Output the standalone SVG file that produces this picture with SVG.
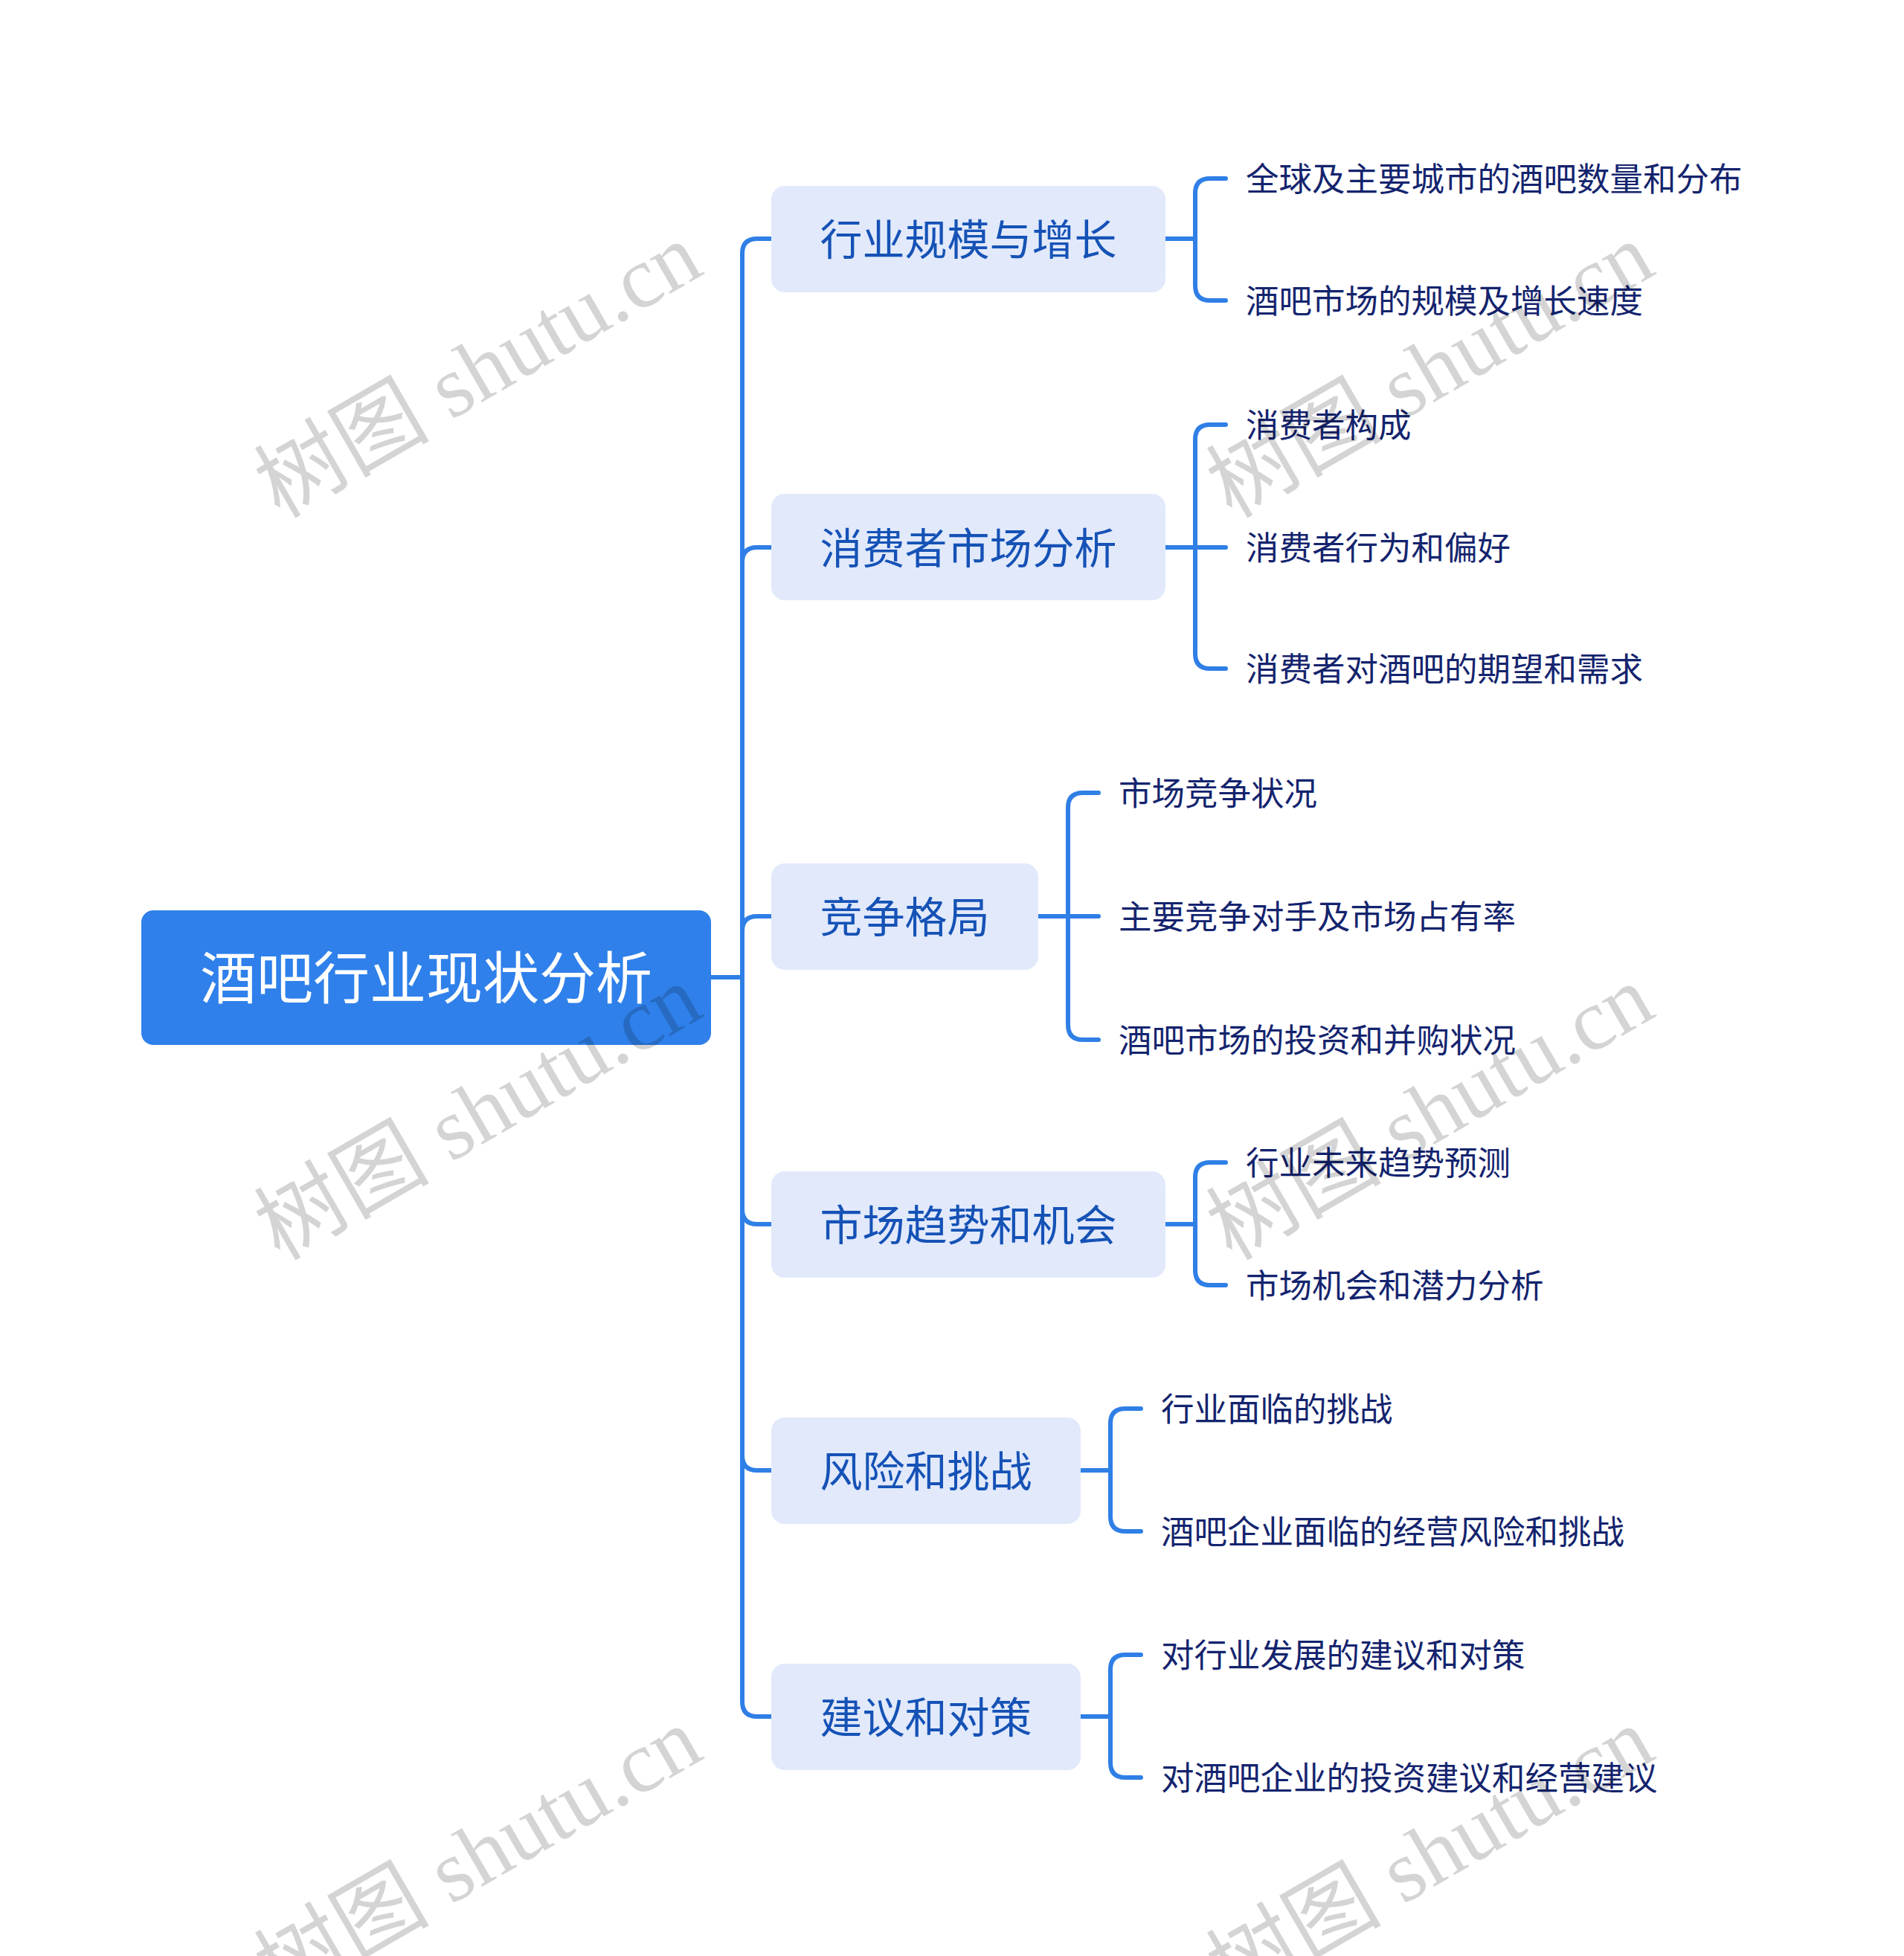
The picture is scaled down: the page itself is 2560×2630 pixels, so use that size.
<svg xmlns="http://www.w3.org/2000/svg" width="2560" height="2630" viewBox="0 0 2560 2630">
<style>
.line{fill:none;stroke:#2f7fe6;stroke-width:6;stroke-linecap:round;stroke-linejoin:round}
.root{fill:#2f80ea}
.l1{fill:#e1e9fb}
.t0{font-family:"Noto Sans CJK SC","Noto Sans",sans-serif;font-size:76px;fill:#ffffff;text-anchor:middle;dominant-baseline:central}
.t1{font-family:"Noto Sans CJK SC","Noto Sans",sans-serif;font-size:57px;fill:#1552b6;text-anchor:middle;dominant-baseline:central}
.t2{font-family:"Noto Sans CJK SC","Noto Sans",sans-serif;font-size:44.5px;fill:#14246e;dominant-baseline:central}
.wm{font-family:"Liberation Serif","Noto Sans CJK SC",serif;font-size:118px;fill:#000;fill-opacity:0.17}
</style>
<rect width="2560" height="2630" fill="#ffffff"/>
<g id="connectors">
  <path class="line" d="M956 1314 H998"/>
  <path class="line" d="M1037 321 H1018 Q998 321 998 341 V2288 Q998 2308 1018 2308 H1037"/>
  <path class="line" d="M998 756 Q998 736 1018 736 H1037"/>
  <path class="line" d="M998 1252 Q998 1232 1018 1232 H1037"/>
  <path class="line" d="M998 1626 Q998 1646 1018 1646 H1037"/>
  <path class="line" d="M998 1957 Q998 1977 1018 1977 H1037"/>
  <path class="line" d="M1567 321 H1607"/>
  <path class="line" d="M1648 240 H1627 Q1607 240 1607 260 V384 Q1607 404 1627 404 H1648"/>
  <path class="line" d="M1567 736 H1648"/>
  <path class="line" d="M1648 571 H1627 Q1607 571 1607 591 V879 Q1607 899 1627 899 H1648"/>
  <path class="line" d="M1396 1232 H1477"/>
  <path class="line" d="M1477 1066 H1456 Q1436 1066 1436 1086 V1378 Q1436 1398 1456 1398 H1477"/>
  <path class="line" d="M1567 1646 H1607"/>
  <path class="line" d="M1648 1563 H1627 Q1607 1563 1607 1583 V1708 Q1607 1728 1627 1728 H1648"/>
  <path class="line" d="M1453 1977 H1493"/>
  <path class="line" d="M1534 1894 H1513 Q1493 1894 1493 1914 V2039 Q1493 2059 1513 2059 H1534"/>
  <path class="line" d="M1453 2308 H1493"/>
  <path class="line" d="M1534 2225 H1513 Q1493 2225 1493 2245 V2370 Q1493 2390 1513 2390 H1534"/>
</g>
<g id="root">
  <rect class="root" x="190" y="1224" width="766" height="181" rx="16"/>
  <text class="t0" x="573" y="1310">酒吧行业现状分析</text>
</g>
<g id="n1">
  <rect class="l1" x="1037" y="250" width="530" height="143" rx="18"/>
  <text class="t1" x="1302" y="318">行业规模与增长</text>
</g>
<g id="n1a"><text class="t2" x="1675" y="237">全球及主要城市的酒吧数量和分布</text></g>
<g id="n1b"><text class="t2" x="1675" y="401">酒吧市场的规模及增长速度</text></g>
<g id="n2">
  <rect class="l1" x="1037" y="664" width="530" height="143" rx="18"/>
  <text class="t1" x="1302" y="733">消费者市场分析</text>
</g>
<g id="n2a"><text class="t2" x="1675" y="568">消费者构成</text></g>
<g id="n2b"><text class="t2" x="1675" y="733">消费者行为和偏好</text></g>
<g id="n2c"><text class="t2" x="1675" y="896">消费者对酒吧的期望和需求</text></g>
<g id="n3">
  <rect class="l1" x="1037" y="1161" width="359" height="143" rx="18"/>
  <text class="t1" x="1216.5" y="1229">竞争格局</text>
</g>
<g id="n3a"><text class="t2" x="1504" y="1063">市场竞争状况</text></g>
<g id="n3b"><text class="t2" x="1504" y="1229">主要竞争对手及市场占有率</text></g>
<g id="n3c"><text class="t2" x="1504" y="1395">酒吧市场的投资和并购状况</text></g>
<g id="n4">
  <rect class="l1" x="1037" y="1575" width="530" height="143" rx="18"/>
  <text class="t1" x="1302" y="1643">市场趋势和机会</text>
</g>
<g id="n4a"><text class="t2" x="1675" y="1560">行业未来趋势预测</text></g>
<g id="n4b"><text class="t2" x="1675" y="1725">市场机会和潜力分析</text></g>
<g id="n5">
  <rect class="l1" x="1037" y="1906" width="416" height="143" rx="18"/>
  <text class="t1" x="1245" y="1974">风险和挑战</text>
</g>
<g id="n5a"><text class="t2" x="1561" y="1891">行业面临的挑战</text></g>
<g id="n5b"><text class="t2" x="1561" y="2056">酒吧企业面临的经营风险和挑战</text></g>
<g id="n6">
  <rect class="l1" x="1037" y="2237" width="416" height="143" rx="18"/>
  <text class="t1" x="1245" y="2305">建议和对策</text>
</g>
<g id="n6a"><text class="t2" x="1561" y="2222">对行业发展的建议和对策</text></g>
<g id="n6b"><text class="t2" x="1561" y="2387">对酒吧企业的投资建议和经营建议</text></g>
<g id="watermarks">
  <text class="wm" transform="translate(376 698) rotate(-30)">树图 shutu.cn</text>
  <text class="wm" transform="translate(376 1696) rotate(-30)">树图 shutu.cn</text>
  <text class="wm" transform="translate(376 2694) rotate(-30)">树图 shutu.cn</text>
  <text class="wm" transform="translate(1656 698) rotate(-30)">树图 shutu.cn</text>
  <text class="wm" transform="translate(1656 1696) rotate(-30)">树图 shutu.cn</text>
  <text class="wm" transform="translate(1656 2694) rotate(-30)">树图 shutu.cn</text>
</g>
</svg>
